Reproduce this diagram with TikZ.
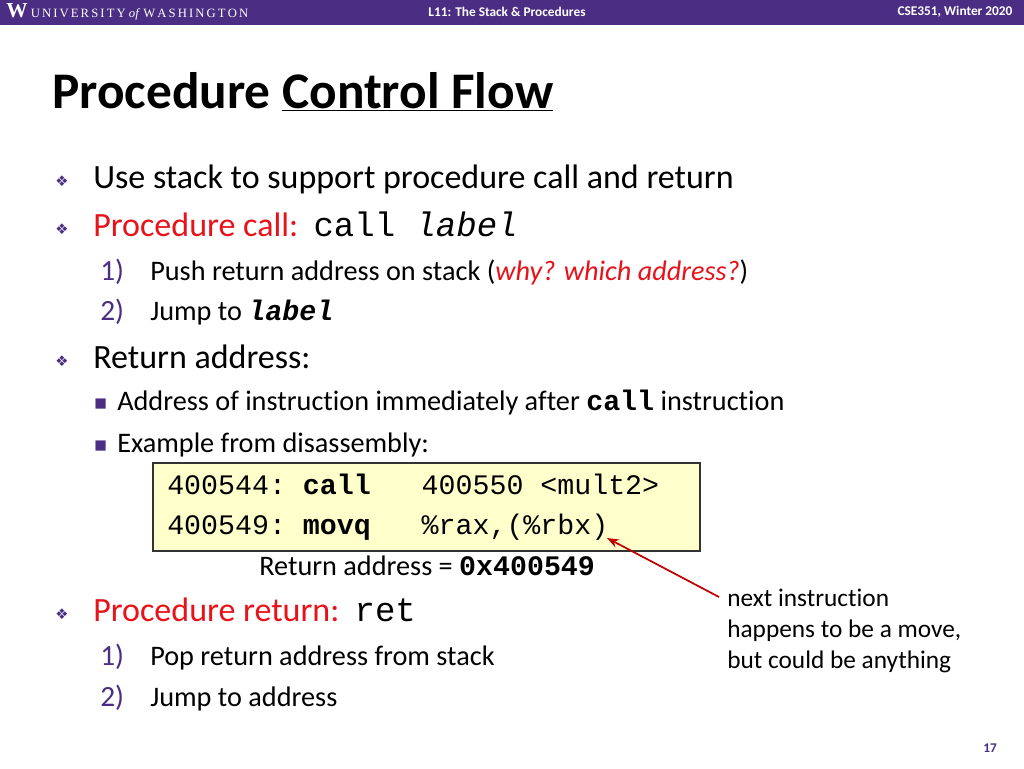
\documentclass[tikz,border=0pt]{standalone}
\usepackage{fontspec}
\setmainfont[Ligatures=NoCommon]{Carlito}
\setmonofont{Liberation Mono}
\newfontfamily\symfont{DejaVu Sans}
\newfontfamily\uwfont{Liberation Serif}
\usetikzlibrary{arrows.meta}
\definecolor{uwpurple}{HTML}{4B2E83}
\definecolor{boxfill}{HTML}{FFFFCC}
\definecolor{slidered}{HTML}{E8121B}
\definecolor{arrowred}{HTML}{C00000}

\begin{document}
\begin{tikzpicture}[x=0.75pt, y=-0.75pt, >=Stealth]
\tikzset{
  txt/.style={anchor=base west, inner sep=0pt, font=\fontsize{25.5}{28}\selectfont},
  subtxt/.style={anchor=base west, inner sep=0pt, font=\fontsize{21.2}{24}\selectfont},
  bul/.style={anchor=base west, inner sep=0pt, text=uwpurple, font=\symfont\fontsize{11}{12}\selectfont},
  num/.style={anchor=base west, inner sep=0pt, text=uwpurple, font=\fontsize{22}{24}\selectfont},
  code/.style={anchor=base west, inner sep=0pt, font=\ttfamily\fontsize{21.2}{24}\selectfont},
  hdr/.style={inner sep=0pt, text=white, font=\bfseries\fontsize{10}{12}\selectfont}
}
\useasboundingbox (0,0) rectangle (1024,768);
\fill[white] (0,0) rectangle (1024,768);

% header bar
\fill[uwpurple] (0,0) rectangle (1024,25);
\node[hdr, anchor=west, font=\uwfont\fontsize{9.5}{12}\selectfont] (uw) at (6,12) {\textbf{\fontsize{16}{16}\selectfont W}\ U\,N\,I\,V\,E\,R\,S\,I\,T\,Y\ \textit{of}\ W\,A\,S\,H\,I\,N\,G\,T\,O\,N};
\node[hdr] (lec) at (507,12) {L11: The Stack \& Procedures};
\node[hdr] (crs) at (955,12) {CSE351, Winter 2020};

% title
\node[anchor=base west, inner sep=0pt, font=\bfseries\fontsize{38.5}{42}\selectfont] (title) at (52,108) {Procedure \underline{Control Flow}};

% bullets
\node[bul] (b1) at (55,186) {❖};
\node[txt] (t1) at (93,188) {Use stack to support procedure call and return};
\node[bul] (b2) at (55,234) {❖};
\node[txt] (t2) at (93,236) {\textcolor{slidered}{Procedure call:}\ \ {\ttfamily call \textit{label}}};
\node[num] (n1) at (100,280) {1)};
\node[subtxt] (s1) at (150,280) {Push return address on stack (\textcolor{slidered}{\textit{why? which address?}})};
\node[num] (n2) at (100,320) {2)};
\node[subtxt] (s2) at (150,320) {Jump to {\ttfamily\bfseries\itshape label}};
\node[bul] (b3) at (55,366) {❖};
\node[txt] (t3) at (93,368) {Return address:};
\node[bul, font=\symfont\fontsize{10}{10}\selectfont] (q1) at (94,407) {■};
\node[subtxt] (s3) at (117,410) {Address of instruction immediately after {\ttfamily\bfseries call} instruction};
\node[bul, font=\symfont\fontsize{10}{10}\selectfont] (q2) at (94,449) {■};
\node[subtxt] (s4) at (117,452) {Example from disassembly:};

% code box
\draw[fill=boxfill, draw=black!80, thick] (153,463) rectangle (700,551);
\node[code] (c1) at (167,494) {400544: \textbf{call}\ \ \ 400550 <mult2>};
\node[code] (c2) at (167,534) {400549: \textbf{movq}\ \ \ \%rax,(\%rbx)};
\node[subtxt] (ra) at (259,575) {Return address = {\ttfamily\bfseries 0x400549}};

\node[bul] (b4) at (55,619) {❖};
\node[txt] (t4) at (93,621) {\textcolor{slidered}{Procedure return:}\ \ {\ttfamily ret}};
\node[num] (n3) at (100,665) {1)};
\node[subtxt] (s5) at (150,665) {Pop return address from stack};
\node[num] (n4) at (100,706) {2)};
\node[subtxt] (s6) at (150,706) {Jump to address};

% note
\node[anchor=north west, inner sep=0pt, align=left, font=\fontsize{19}{23.3}\selectfont] (note) at (727,589) {next instruction\\happens to be a move,\\but could be anything};
\coordinate (tip) at (607,538);
\draw[->, arrowred, line width=1.3pt] (note.north west) ++(-8,8) -- (tip);

\node[inner sep=0pt, text=uwpurple, font=\bfseries\fontsize{10}{12}\selectfont] (pg) at (990,748) {17};
\end{tikzpicture}
\end{document}
